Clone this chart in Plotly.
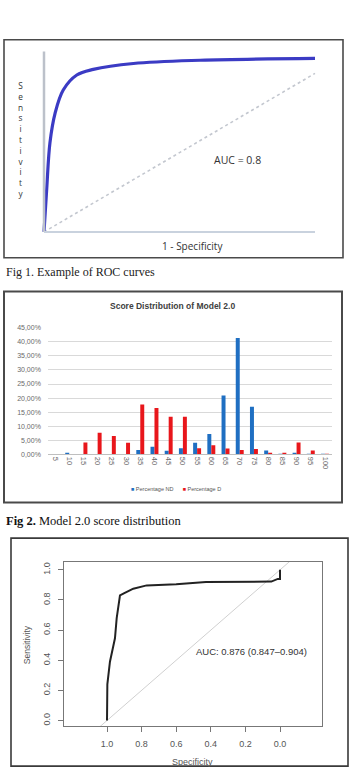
import plotly.graph_objects as go

W, H = 350, 779

def px(x):
    return x / W

def py(y):
    return 1 - y / H

# ---------------- Data ----------------
# Fig 1: example ROC curve (1 - specificity, sensitivity)
roc1_fpr = [0.0, 0.010, 0.022, 0.041, 0.071, 0.121, 0.182, 0.330, 0.576, 1.0]
roc1_tpr = [0.0, 0.238, 0.495, 0.659, 0.787, 0.870, 0.901, 0.934, 0.952, 0.962]
diag1_x = [0.0, 1.0]
diag1_y = [0.0, 0.879]

# Fig 2: score distribution
score_bins = ["5", "10", "15", "20", "25", "30", "35", "40", "45", "50",
              "55", "60", "65", "70", "75", "80", "85", "90", "95", "100"]
pct_nd = [0.0, 0.2, 0.0, 0.0, 0.0, 0.0, 1.5, 2.7, 1.2, 2.1,
          4.1, 7.2, 20.9, 41.4, 16.9, 1.3, 0.1, 0.2, 0.1, 0.1]
pct_d = [0.0, 0.0, 4.2, 7.6, 6.5, 4.1, 17.7, 16.5, 13.3, 13.3,
         2.1, 3.2, 2.0, 1.5, 1.9, 0.5, 0.4, 4.2, 1.3, 0.1]
y2_ticks = [0, 5, 10, 15, 20, 25, 30, 35, 40, 45]
y2_ticktext = ["0,00%", "5,00%", "10,00%", "15,00%", "20,00%", "25,00%",
               "30,00%", "35,00%", "40,00%", "45,00%"]

# Fig 3: empirical ROC curve (specificity, sensitivity)
roc3_spec = [1.0, 1.0, 0.998, 0.983, 0.954, 0.944, 0.925, 0.90, 0.848, 0.771,
             0.60, 0.428, 0.08, 0.05, 0.013, 0.0, 0.0]
roc3_sens = [0.0, 0.10, 0.24, 0.39, 0.546, 0.68, 0.83, 0.845, 0.875, 0.897,
             0.905, 0.919, 0.922, 0.922, 0.94, 0.94, 1.0]
diag3_spec = [1.4, -0.4]
diag3_sens = [-0.4, 1.4]
ticks3 = [0.0, 0.2, 0.4, 0.6, 0.8, 1.0]
ticks3_text = ["0.0", "0.2", "0.4", "0.6", "0.8", "1.0"]

fig = go.Figure()

# ---------- Panel 1 ----------
fig.add_trace(go.Scatter(x=diag1_x, y=diag1_y, mode="lines",
                         line=dict(color="#c3c7cf", width=1.6, dash="dot"),
                         xaxis="x", yaxis="y", showlegend=False, hoverinfo="skip"))
fig.add_trace(go.Scatter(x=roc1_fpr, y=roc1_tpr, mode="lines",
                         line=dict(color="#3b3bc4", width=3.2, shape="spline", smoothing=1.0),
                         xaxis="x", yaxis="y", showlegend=False, hoverinfo="skip"))

# ---------- Panel 2 ----------
fig.add_trace(go.Bar(x=score_bins, y=pct_nd, name="Percentage ND",
                     marker=dict(color="#1f6fc2", line=dict(width=0)),
                     xaxis="x2", yaxis="y2", showlegend=False))
fig.add_trace(go.Bar(x=score_bins, y=pct_d, name="Percentage D",
                     marker=dict(color="#e8161b", line=dict(width=0)),
                     xaxis="x2", yaxis="y2", showlegend=False))

# ---------- Panel 3 ----------
fig.add_trace(go.Scatter(x=diag3_spec, y=diag3_sens, mode="lines",
                         line=dict(color="#d0d0d0", width=1),
                         xaxis="x3", yaxis="y3", showlegend=False, hoverinfo="skip"))
fig.add_trace(go.Scatter(x=roc3_spec, y=roc3_sens, mode="lines",
                         line=dict(color="#222222", width=2),
                         xaxis="x3", yaxis="y3", showlegend=False, hoverinfo="skip"))

hidden = dict(visible=False)

fig.update_layout(
    width=W, height=H,
    margin=dict(l=0, r=0, t=0, b=0),
    paper_bgcolor="white", plot_bgcolor="rgba(0,0,0,0)",
    barmode="group", bargap=0.44, bargroupgap=0.0,
    showlegend=False,
    # panel 1
    xaxis=dict(domain=[px(35.87), px(323.13)], range=[-0.03, 1.03], visible=False, fixedrange=True),
    yaxis=dict(domain=[py(235.46), py(42.54)], range=[-0.03, 1.03], visible=False, fixedrange=True),
    # panel 2
    xaxis2=dict(domain=[px(47.9), px(332.1)], type="category", range=[-0.5, 19.5],
                anchor="y2", tickangle=90, showgrid=False, showline=True,
                linecolor="#bfbfbf", linewidth=1, ticks="",
                tickfont=dict(family="Liberation Sans", size=7.5, color="#666666")),
    yaxis2=dict(domain=[py(454.3), py(326.8)], range=[0, 45], anchor="x2",
                tickvals=y2_ticks, ticktext=y2_ticktext, showgrid=True,
                gridcolor="#d9d9d9", gridwidth=1, zeroline=False, ticks="",
                ticklabelstandoff=6,
                tickfont=dict(family="Liberation Sans", size=7, color="#6a6a6a")),
    # panel 3
    xaxis3=dict(domain=[px(64), px(322)], range=[1.2486, -0.2428], anchor="y3",
                tickvals=ticks3, ticktext=ticks3_text, showgrid=False, zeroline=False,
                showline=True, mirror=True, linecolor="#777777", linewidth=1,
                ticks="outside", ticklen=5, tickcolor="#777777",
                ticklabelstandoff=4,
                tickfont=dict(family="Liberation Sans", size=9, color="#555555")),
    yaxis3=dict(domain=[py(729), py(563)], range=[-0.0395, 1.0526], anchor="x3",
                tickvals=ticks3, ticktext=ticks3_text, showgrid=False, zeroline=False,
                showline=True, mirror=True, linecolor="#777777", linewidth=1,
                ticks="outside", ticklen=5, tickcolor="#777777", tickangle=-90,
                ticklabelstandoff=4,
                tickfont=dict(family="Liberation Sans", size=9, color="#555555")),
)

shapes = [
    # Panel borders
    dict(type="rect", xref="paper", yref="paper", x0=px(4), x1=px(343), y0=py(256), y1=py(36),
         line=dict(color="#4a4a4a", width=1.6)),
    dict(type="rect", xref="paper", yref="paper", x0=px(4), x1=px(342), y0=py(503), y1=py(290),
         line=dict(color="#4a4a4a", width=2)),
    dict(type="rect", xref="paper", yref="paper", x0=px(11), x1=px(348), y0=py(769), y1=py(539),
         line=dict(color="#3a3a3a", width=1.6)),
    # Panel 1 axes
    dict(type="line", xref="x", yref="y", x0=0, x1=0, y0=0, y1=1,
         line=dict(color="#bcc1ca", width=2.5)),
    dict(type="line", xref="x", yref="y", x0=0, x1=1, y0=0, y1=0,
         line=dict(color="#c9d2de", width=2)),
]
fig.update_layout(shapes=shapes)

annotations = [
    # Panel 1
    dict(text="<br>".join(list("Sensitivity")), x=px(20), y=py(137), xref="paper", yref="paper",
         showarrow=False, font=dict(family="Open Sans", size=8.3, color="#333333"),
         xanchor="center", yanchor="middle"),
    dict(text="AUC = 0.8", x=px(237), y=py(157), xref="paper", yref="paper", showarrow=False,
         font=dict(family="Open Sans", size=10.5, color="#333333"), xanchor="center", yanchor="middle"),
    dict(text="1 - Specificity", x=px(192), y=py(244), xref="paper", yref="paper", showarrow=False,
         font=dict(family="Open Sans", size=10, color="#333333"), xanchor="center", yanchor="middle"),
    dict(text="Fig 1. Example of ROC curves", x=px(4), y=py(270), xref="paper", yref="paper",
         showarrow=False, font=dict(family="Liberation Serif", size=12, color="#222222"),
         xanchor="left", yanchor="middle"),
    # Panel 2
    dict(text="<b>Score Distribution of Model 2.0</b>", x=px(172), y=py(305), xref="paper", yref="paper",
         showarrow=False, font=dict(family="Liberation Sans", size=8.5, color="#404040"),
         xanchor="center", yanchor="middle"),
    dict(text='<span style="color:#1f6fc2">■</span> Percentage ND      '
              '<span style="color:#e8161b">■</span> Percentage D',
         x=px(176), y=py(489), xref="paper", yref="paper", showarrow=False,
         font=dict(family="Liberation Sans", size=5.5, color="#555555"),
         xanchor="center", yanchor="middle"),
    dict(text="<b>Fig 2.</b> Model 2.0 score distribution", x=px(4), y=py(522), xref="paper", yref="paper",
         showarrow=False, font=dict(family="Liberation Serif", size=12.5, color="#111111"),
         xanchor="left", yanchor="middle"),
    # Panel 3
    dict(text="AUC: 0.876 (0.847\u20130.904)", x=0.5, y=0.46, xref="x3", yref="y3", showarrow=False,
         font=dict(family="Liberation Sans", size=9.5, color="#333333"),
         xanchor="left", yanchor="middle"),
    dict(text="Sensitivity", x=px(27), y=py(647), xref="paper", yref="paper", showarrow=False,
         textangle=-90, font=dict(family="Liberation Sans", size=8.5, color="#555555"),
         xanchor="center", yanchor="middle"),
    dict(text="Specificity", x=px(193), y=py(765), xref="paper", yref="paper", showarrow=False,
         font=dict(family="Liberation Sans", size=9, color="#555555"),
         xanchor="center", yanchor="middle"),
]
fig.update_layout(annotations=annotations)

fig.write_html("out.html")
